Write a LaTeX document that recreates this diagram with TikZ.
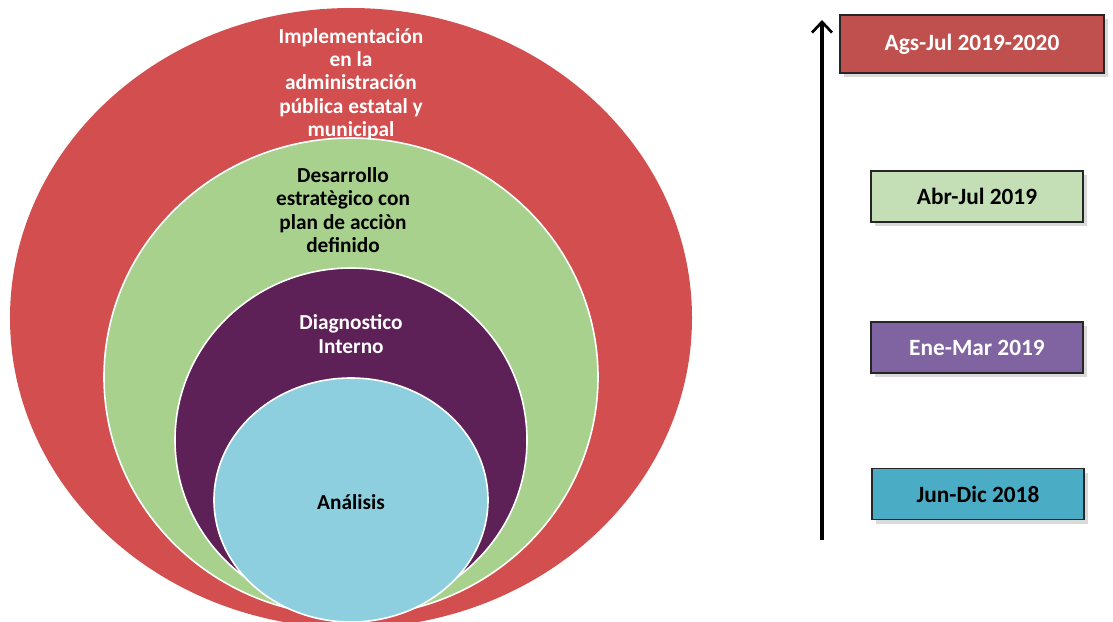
\documentclass[tikz,border=0pt]{standalone}
\usepackage{fontspec}
\setmainfont{Carlito}
\usetikzlibrary{positioning,shapes.geometric,shadows,arrows.meta}

\definecolor{ringred}{RGB}{211,78,78}
\definecolor{ringgreen}{RGB}{169,209,142}
\definecolor{ringpurple}{RGB}{94,33,87}
\definecolor{ringblue}{RGB}{141,207,223}
\definecolor{boxred}{RGB}{192,80,77}
\definecolor{boxgreen}{RGB}{196,223,182}
\definecolor{boxpurple}{RGB}{128,100,162}
\definecolor{boxblue}{RGB}{75,172,198}

\begin{document}
\begin{tikzpicture}[x=0.75pt,y=-0.75pt,
                       ring/.style={ellipse,draw=white,line width=1.2pt,inner sep=0pt},
                       ring text/.style={font=\fontsize{16}{17.4}\selectfont\bfseries,
                                         align=center,inner sep=0pt},
                       period/.style={rectangle,draw=black!85,line width=0.8pt,
                                      minimum width=159pt,minimum height=38.25pt,
                                      font=\fontsize{17.5}{20}\selectfont\bfseries,
                                      drop shadow={shadow xshift=3pt,shadow yshift=-3pt,
                                                   opacity=0.3}}
                           ]
   \useasboundingbox (0,0) rectangle (1113,621);
   % nested rings
   \node[ring,draw=none,fill=ringred,minimum width=511.5pt,minimum height=465pt] (impl) at (351,318) {};
   \node[ring,fill=ringgreen,minimum width=370.5pt,minimum height=358.5pt] (desa) at (351,377) {};
   \node[ring,fill=ringpurple,minimum width=264pt,minimum height=258pt] (diag) at (351,440) {};
   \node[ring,fill=ringblue,minimum width=205.5pt,minimum height=183pt] (anal) at (351,500) {};
   % ring labels
   \node[ring text,white] (impl text) at (351,84) {Implementación\\en la\\administración\\pública estatal y\\municipal};
   \node[ring text] (desa text) at (343,210) {Desarrollo\\estratègico con\\plan de acciòn\\definido};
   \node[ring text,white] (diag text) at (351,334) {Diagnostico\\Interno};
   \node[ring text] (anal text) at (351,502) {Análisis};
   % time line
   \coordinate (t0) at (822,540);
   \coordinate (t1) at (822,20);
   \draw[line width=2.3pt,-{Straight Barb[length=8pt,width=15pt,line width=2pt]}] (t0) -- (t1);
   \node[period,fill=boxred,text=white,minimum width=198pt,minimum height=43.5pt] (p4) at (972,44) {Ags-Jul 2019-2020};
   \node[period,fill=boxgreen] (p3) at (977,196.5) {Abr-Jul 2019};
   \node[period,fill=boxpurple,text=white] (p2) at (977,347.5) {Ene-Mar 2019};
   \node[period,fill=boxblue] (p1) at (978,494) {Jun-Dic 2018};
\end{tikzpicture}
\end{document}
